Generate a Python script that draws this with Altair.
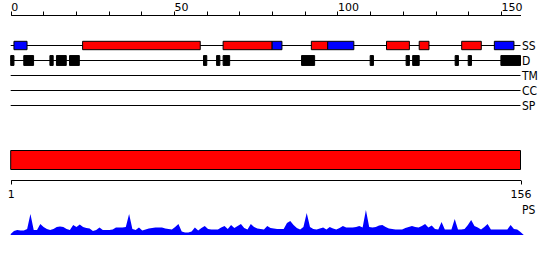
import altair as alt
import pandas as pd

# ---------------- data ----------------
seq_len = 156
ruler_ticks = list(range(0, 151, 10))

track_names = ["SS", "D", "TM", "CC", "SP"]
track_rows = [0, 1, 2, 3, 4]

# secondary structure: H = helix (red), E = strand (blue)
ss_start = [1, 22, 65, 80, 92, 97, 115, 125, 138, 148]
ss_end = [5, 58, 80, 83, 97, 105, 122, 128, 144, 154]
ss_type = ["E", "H", "H", "E", "H", "E", "H", "H", "H", "E"]

# disorder segments
dis_start = [0, 4, 12, 14, 18, 59, 63, 65, 89, 110, 121, 123, 136, 140, 150]
dis_end = [1, 7, 13, 17, 21, 60, 64, 67, 93, 111, 122, 125, 137, 141, 156]

# domain bar
domain_start = [1]
domain_end = [156]
domain_ticks = [1, 156]

# PS profile
ps_pos = list(range(1, 158)) + [161]
ps_val = [
    1, 4, 5, 4.5, 4.5, 6, 21, 5, 5, 11,
    8, 6, 5, 6, 8, 8.5, 8, 6, 5, 10,
    8, 10.5, 8, 7, 6.5, 4, 5, 7.5, 5, 5,
    5, 5.5, 7.5, 7.5, 7.5, 8, 21, 6, 5, 7.5,
    4.5, 5.5, 6.5, 7, 7.5, 7.5, 7.5, 6.5, 6, 5.5,
    8, 11, 3.5, 2.5, 2.5, 3.5, 7.5, 4.5, 7, 9,
    6, 5.5, 5.5, 5.5, 7.5, 9, 6, 10, 7, 9,
    11, 7, 5.5, 11, 8, 6.5, 6, 5.5, 9, 7,
    6.5, 6, 6, 6, 12, 14, 10, 7, 5.5, 8,
    22, 8, 6, 5.5, 6.5, 7.5, 5.5, 8, 6.5, 5.5,
    7, 9, 7.5, 7.5, 7.5, 8, 9, 7.5, 25, 8,
    7.5, 8, 9.5, 10, 8, 6.5, 6, 5.5, 5.5, 5.5,
    7, 8, 9, 8, 7.5, 9, 11, 7.5, 9.5, 6,
    5.5, 13, 5.5, 5.5, 5.5, 16, 5.5, 5.5, 6, 10,
    15, 9, 7.5, 5.5, 8, 11, 5.5, 5.5, 5.5, 5.5,
    5.5, 5.5, 10, 6, 5.5, 3, 0, 0,
]

# ---------------- styling ----------------
FONT = "DejaVu Sans"
LABEL_FONT = "DejaVu Sans Condensed, DejaVu Sans, sans-serif"
X_RANGE = [10.7, 520.5]


def x_top():
    return alt.Scale(domain=[0, seq_len], range=X_RANGE, nice=False, zero=False)


def x_bot():
    return alt.Scale(domain=[1, seq_len], range=X_RANGE, nice=False, zero=False)


def y_rows():
    return alt.Scale(domain=[0, 4], range=[45.5, 105.5], nice=False, zero=False)


y_bar = alt.Scale(domain=[0, 1], range=[169.5, 150.5], nice=False, zero=False)


def y_ps():
    return alt.Scale(domain=[0, 25], range=[235, 210], nice=False)


tracks_df = pd.DataFrame(
    {"name": track_names, "row": track_rows, "start": [0] * 5, "end": [seq_len] * 5}
)
ss_df = pd.DataFrame({"start": ss_start, "end": ss_end, "type": ss_type, "row": 0})
dis_df = pd.DataFrame({"start": dis_start, "end": dis_end, "row": 1})
bar_df = pd.DataFrame({"start": domain_start, "end": domain_end, "lo": [0], "hi": [1]})
ps_df = pd.DataFrame({"pos": ps_pos, "val": ps_val})
ps_lab_df = pd.DataFrame({"pos": [seq_len], "val": [25], "name": ["PS"]})

top_axis = alt.Axis(
    orient="top", offset=-15, values=ruler_ticks,
    labelExpr="datum.value % 50 === 0 ? datum.label : ''",
    tickSize=4, labelBaseline="alphabetic", labelPadding=1, labelAlign="left",
    labelFlush=False, labelOverlap=False, grid=False,
    domainColor="black", tickColor="black", labelColor="black",
    labelFont=FONT, labelFontSize=11, title=None,
)

lines = alt.Chart(tracks_df).mark_rule(color="black", strokeWidth=1).encode(
    x=alt.X("start:Q", scale=x_top(), axis=top_axis),
    x2="end:Q",
    y=alt.Y("row:Q", scale=y_rows(), axis=None),
)

ss = alt.Chart(ss_df).transform_calculate(
    y0="datum.row - 0.28", y1="datum.row + 0.28"
).mark_rect(stroke="black", strokeWidth=1).encode(
    x=alt.X("start:Q", scale=x_top(), axis=None),
    x2="end:Q",
    y=alt.Y("y0:Q", scale=y_rows(), axis=None),
    y2="y1:Q",
    fill=alt.Fill("type:N", scale=alt.Scale(domain=["H", "E"], range=["#FF0000", "#0000FF"]), legend=None),
)

dis = alt.Chart(dis_df).transform_calculate(
    y0="datum.row - 0.33", y1="datum.row + 0.33"
).mark_rect(stroke="black", strokeWidth=1, fill="black").encode(
    x=alt.X("start:Q", scale=x_top(), axis=None),
    x2="end:Q",
    y=alt.Y("y0:Q", scale=y_rows(), axis=None),
    y2="y1:Q",
)

labels = alt.Chart(tracks_df).mark_text(
    align="left", baseline="middle", dx=1.5, font=LABEL_FONT, fontSize=12, color="black"
).encode(
    x=alt.X("end:Q", scale=x_top(), axis=None),
    y=alt.Y("row:Q", scale=y_rows(), axis=None),
    text="name:N",
)

bot_axis = alt.Axis(
    orient="bottom", offset=-80, values=domain_ticks, tickSize=4, labelPadding=4,
    labelFlush=False, labelOverlap=False, grid=False,
    domainColor="black", tickColor="black", labelColor="black",
    labelFont=FONT, labelFontSize=11, title=None,
)

bar = alt.Chart(bar_df).mark_rect(fill="#FF0000", stroke="black", strokeWidth=1).encode(
    x=alt.X("start:Q", scale=x_bot(), axis=bot_axis),
    x2="end:Q",
    y=alt.Y("lo:Q", scale=y_bar, axis=None),
    y2="hi:Q",
)

area = alt.Chart(ps_df).mark_area(color="#0000FF", interpolate="linear").encode(
    x=alt.X("pos:Q", scale=x_bot(), axis=None),
    y=alt.Y("val:Q", scale=y_ps(), axis=None),
)

ps_label = alt.Chart(ps_lab_df).mark_text(
    align="left", baseline="middle", dx=1.5, font=LABEL_FONT, fontSize=12, color="black"
).encode(
    x=alt.X("pos:Q", scale=x_bot(), axis=None),
    y=alt.Y("val:Q", scale=y_ps(), axis=None),
    text="name:N",
)

chart = alt.layer(lines, ss, dis, labels, bar, area, ps_label).resolve_scale(
    x="independent", y="independent", fill="independent"
).properties(
    width=550, height=260, padding=0, background="white",
    autosize=alt.AutoSizeParams(type="none"),
).configure_view(strokeWidth=0)

chart.save("out.html", embed_options={"renderer": "svg", "actions": False})
